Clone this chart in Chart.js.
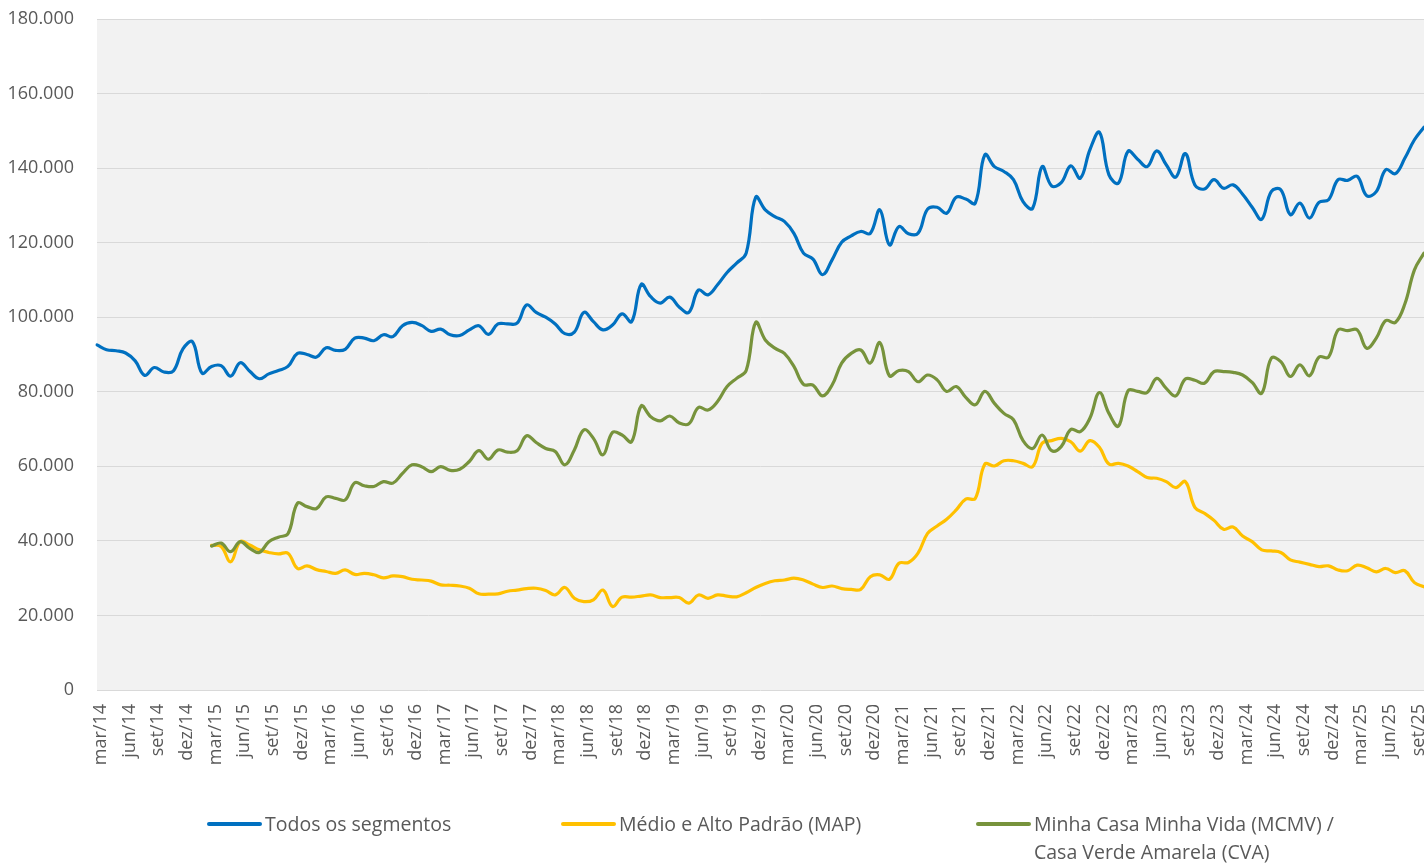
<!DOCTYPE html>
<html>
<head>
<meta charset="utf-8">
<script src="https://cdn.jsdelivr.net/npm/chart.js@4.4.1/dist/chart.umd.min.js"></script>
<style>
  html, body { margin: 0; padding: 0; background: #ffffff; overflow: hidden; }
  #wrap { position: relative; width: 1424px; height: 863px; }
  #c { position: absolute; left: 0; top: 0; }
  .lg { position: absolute; font-family: "Open Sans", sans-serif; font-size: 19.5px; color: #595959; line-height: 28px; white-space: nowrap; }
  .lg .sw { position: absolute; left: 0; top: 12px; width: 55px; height: 3.5px; border-radius: 2px; }
  .lg .tx { position: absolute; left: 58px; top: 0; }
</style>
</head>
<body>
<div id="wrap">
  <canvas id="c" width="1424" height="863"></canvas>
  <div id="legend"></div>
</div>
<script>
const categories = ("mar/14 abr/14 mai/14 jun/14 jul/14 ago/14 set/14 out/14 nov/14 dez/14 " +
  "jan/15 fev/15 mar/15 abr/15 mai/15 jun/15 jul/15 ago/15 set/15 out/15 nov/15 dez/15 " +
  "jan/16 fev/16 mar/16 abr/16 mai/16 jun/16 jul/16 ago/16 set/16 out/16 nov/16 dez/16 " +
  "jan/17 fev/17 mar/17 abr/17 mai/17 jun/17 jul/17 ago/17 set/17 out/17 nov/17 dez/17 " +
  "jan/18 fev/18 mar/18 abr/18 mai/18 jun/18 jul/18 ago/18 set/18 out/18 nov/18 dez/18 " +
  "jan/19 fev/19 mar/19 abr/19 mai/19 jun/19 jul/19 ago/19 set/19 out/19 nov/19 dez/19 " +
  "jan/20 fev/20 mar/20 abr/20 mai/20 jun/20 jul/20 ago/20 set/20 out/20 nov/20 dez/20 " +
  "jan/21 fev/21 mar/21 abr/21 mai/21 jun/21 jul/21 ago/21 set/21 out/21 nov/21 dez/21 " +
  "jan/22 fev/22 mar/22 abr/22 mai/22 jun/22 jul/22 ago/22 set/22 out/22 nov/22 dez/22 " +
  "jan/23 fev/23 mar/23 abr/23 mai/23 jun/23 jul/23 ago/23 set/23 out/23 nov/23 dez/23 " +
  "jan/24 fev/24 mar/24 abr/24 mai/24 jun/24 jul/24 ago/24 set/24 out/24 nov/24 dez/24 " +
  "jan/25 fev/25 mar/25 abr/25 mai/25 jun/25 jul/25 ago/25 set/25 out/25").split(" ");

const seriesNames = ["Todos os segmentos", "Médio e Alto Padrão (MAP)", ["Minha Casa Minha Vida (MCMV) /", "Casa Verde Amarela (CVA)"]];

const todos = [
  92600, 91300, 91000, 90400, 88300, 84400, 86500, 85300, 85600, 91500,
  93400, 85000, 86800, 87000, 84200, 87800, 85500, 83500, 84800, 85700,
  86800, 90300, 90000, 89300, 91800, 91100, 91400, 94400, 94400, 93700,
  95300, 94800, 97700, 98600, 97800, 96200, 96800, 95300, 95100, 96600,
  97700, 95400, 98200, 98200, 98400, 103300, 101300, 100000, 98200, 95600,
  96000, 101300, 98800, 96600, 97900, 100900, 98800, 108800, 105500, 103800,
  105400, 102700, 101300, 107300, 106000, 108700, 112000, 114500, 117200, 132200,
  128800, 127000, 125700, 122500, 117200, 115600, 111400, 115400, 120100, 121800,
  123000, 122500, 128800, 119400, 124300, 122400, 122500, 129000, 129500, 127900,
  132200, 131700, 130600, 143600, 140400, 139100, 136900, 131000, 129200, 140400,
  135200, 136100, 140600, 137300, 144900, 149600, 138200, 136000, 144500, 142400,
  140400, 144600, 140900, 137600, 143900, 135500, 134400, 136900, 134600, 135500,
  133000, 129500, 126300, 133700, 134200, 127500, 130600, 126600, 130800, 131500,
  136900, 136700, 137800, 132600, 133700, 139600, 138500, 142700, 147600, 151000
];

const map = [
  null, null, null, null, null, null, null, null, null, null,
  null, null, 38800, 38500, 34400, 39800, 38900, 37600, 36900, 36500,
  36700, 32600, 33300, 32300, 31800, 31300, 32200, 31000, 31300, 30900,
  30100, 30600, 30400, 29700, 29500, 29200, 28200, 28100, 27900, 27300,
  25800, 25700, 25800, 26500, 26800, 27200, 27300, 26700, 25500, 27500,
  24600, 23700, 24200, 26800, 22400, 24900, 24900, 25200, 25500, 24800,
  24800, 24800, 23300, 25500, 24600, 25500, 25200, 25000, 26100, 27500,
  28600, 29300, 29500, 30000, 29500, 28400, 27500, 27900, 27200, 27000,
  27000, 30400, 30900, 29700, 34000, 34200, 36700, 42000, 44000, 45800,
  48300, 51200, 51400, 60600, 60100, 61500, 61500, 60800, 59900, 66200,
  66900, 67500, 66600, 64100, 66900, 65100, 60600, 60800, 60100, 58600,
  57000, 56800, 55900, 54300, 55900, 49000, 47400, 45500, 43100, 43700,
  41300, 39800, 37600, 37300, 36900, 34900, 34300, 33700, 33100, 33300,
  32200, 32000, 33500, 32800, 31700, 32600, 31500, 32000, 28800, 27700
];

const mcmv = [
  null, null, null, null, null, null, null, null, null, null,
  null, null, 38600, 39400, 37100, 39800, 38000, 36900, 39800, 41000,
  41900, 50100, 49200, 48700, 51800, 51400, 51000, 55600, 54800, 54600,
  55900, 55500, 58100, 60400, 59900, 58600, 59900, 58900, 59200, 61300,
  64200, 61900, 64400, 63800, 64200, 68200, 66400, 64800, 64000, 60400,
  64400, 69800, 67500, 63100, 69100, 68400, 66600, 76200, 73300, 72200,
  73500, 71600, 71400, 75800, 75100, 77400, 81400, 83600, 85700, 98600,
  93900, 91700, 90300, 86800, 82000, 81800, 78900, 81800, 87700, 90300,
  91200, 87700, 93200, 84300, 85700, 85400, 82700, 84500, 83200, 80100,
  81400, 78500, 76500, 80100, 76900, 74200, 72500, 66900, 64800, 68400,
  64200, 65300, 69900, 69300, 72900, 79800, 74200, 70800, 80300, 80100,
  79800, 83600, 80900, 78900, 83400, 83100, 82300, 85400, 85400, 85200,
  84500, 82500, 79600, 89000, 88100, 84100, 87200, 84300, 89300, 89300,
  96600, 96400, 96600, 91700, 94400, 99100, 98600, 103600, 112700, 117200
];

const yTicks = [0, 20000, 40000, 60000, 80000, 100000, 120000, 140000, 160000, 180000];
const colors = ["#0070C0", "#FFC000", "#77933C"];

const FONT = "'Open Sans', sans-serif";
const TXT = "#595959";

const plotBg = {
  id: 'plotBg',
  beforeDraw(chart) {
    const { ctx, chartArea: a } = chart;
    ctx.save();
    ctx.fillStyle = '#F2F2F2';
    ctx.fillRect(a.left, a.top, a.right - a.left, a.bottom - a.top);
    ctx.restore();
  }
};

const fmt = v => String(v).replace(/\B(?=(\d{3})+(?!\d))/g, '.');

new Chart(document.getElementById('c'), {
  type: 'line',
  data: {
    labels: categories,
    datasets: [
      { label: "Todos os segmentos", data: todos, borderColor: colors[0], order: 3 },
      { label: "Médio e Alto Padrão (MAP)", data: map, borderColor: colors[1], order: 2 },
      { label: "Minha Casa Minha Vida (MCMV) / Casa Verde Amarela (CVA)", data: mcmv, borderColor: colors[2], order: 1 }
    ]
  },
  options: {
    responsive: false,
    animation: false,
    devicePixelRatio: 1,
    layout: { padding: { top: 19, left: 0, right: 0, bottom: 0 } },
    elements: {
      line: { borderWidth: 3.2, tension: 0.4, fill: false, borderCapStyle: 'round', borderJoinStyle: 'round' },
      point: { radius: 0, hoverRadius: 0 }
    },
    plugins: {
      legend: { display: false },
      tooltip: { enabled: false }
    },
    scales: {
      x: {
        type: 'category',
        offset: false,
        grid: { display: false, drawTicks: false },
        border: { display: false },
        ticks: {
          autoSkip: false,
          maxRotation: 90,
          minRotation: 90,
          padding: 14,
          labelOffset: 4,
          color: TXT,
          font: { family: FONT, size: 18 },
          callback: function (value, index) { return index % 3 === 0 ? categories[index] : ''; }
        },
        afterFit(s) { s.height = 173; s.paddingLeft = 0; s.paddingRight = 0; }
      },
      y: {
        min: 0,
        max: 180000,
        afterBuildTicks(s) { s.ticks = yTicks.map(v => ({ value: v })); },
        grid: { color: '#D9D9D9', lineWidth: 1, drawTicks: false },
        border: { display: false },
        ticks: {
          padding: 23,
          color: TXT,
          font: { family: FONT, size: 18 },
          callback: v => fmt(v)
        },
        afterFit(s) { s.width = 97; s.paddingTop = 0; s.paddingBottom = 0; }
      }
    }
  },
  plugins: [plotBg]
});

// HTML legend
const legendPos = [207, 561, 976];
const legendDiv = document.getElementById('legend');
seriesNames.forEach((name, i) => {
  const item = document.createElement('div');
  item.className = 'lg';
  item.style.left = legendPos[i] + 'px';
  item.style.top = '810px';
  const sw = document.createElement('div');
  sw.className = 'sw';
  sw.style.background = colors[i];
  const tx = document.createElement('div');
  tx.className = 'tx';
  const lines = Array.isArray(name) ? name : [name];
  lines.forEach((ln, k) => {
    if (k) tx.appendChild(document.createElement('br'));
    tx.appendChild(document.createTextNode(ln));
  });
  item.appendChild(sw);
  item.appendChild(tx);
  legendDiv.appendChild(item);
});
</script>
</body>
</html>
